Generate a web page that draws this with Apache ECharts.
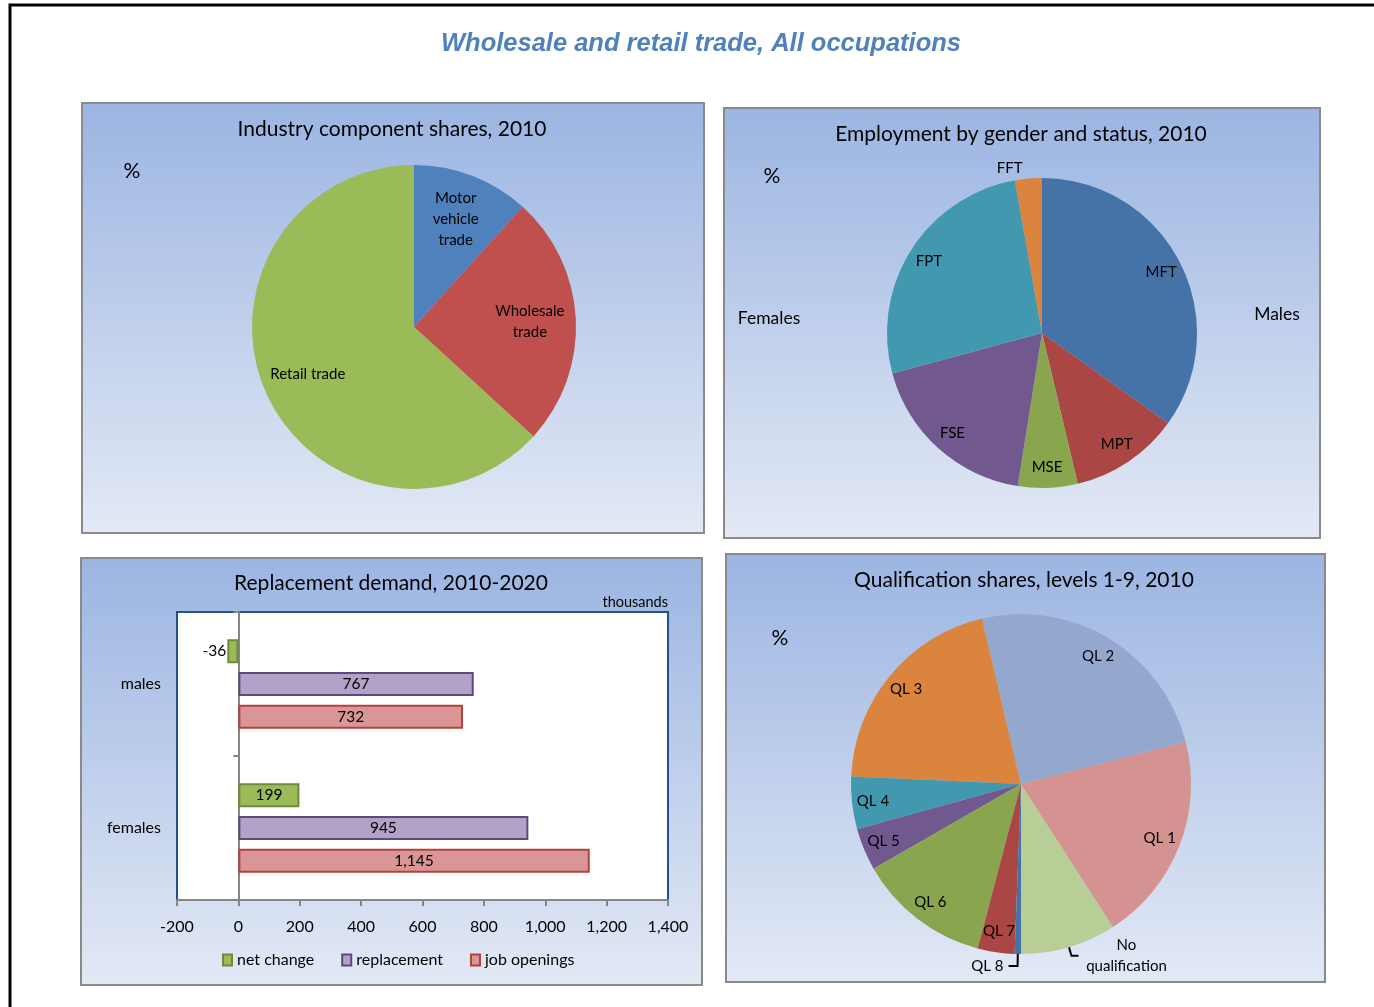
<!DOCTYPE html>
<html>
<head>
<meta charset="utf-8">
<title>Wholesale and retail trade, All occupations</title>
<script src="https://cdn.jsdelivr.net/npm/echarts@6/dist/echarts.min.js"></script>
<style>
  html, body { margin: 0; padding: 0; background: #fff; }
  #chart { width: 1374px; height: 1007px; }
</style>
</head>
<body>
<div id="chart"></div>
<script>
// industry component shares, 2010 (%)
const industryNames = ['Motor vehicle trade', 'Wholesale trade', 'Retail trade'];
const industryShares = [11.7, 25.1, 63.2];

// employment by gender and status, 2010 (%)
const statusNames = ['MFT', 'MPT', 'MSE', 'FSE', 'FPT', 'FFT'];
const statusShares = [34.9, 11.4, 6.2, 18.3, 26.4, 2.8];

// qualification shares, 2010 (%)
const qualNames = ['No qualification', 'QL 1', 'QL 2', 'QL 3', 'QL 4', 'QL 5', 'QL 6', 'QL 7', 'QL 8'];
const qualShares = [9.1, 19.9, 24.7, 20.6, 5.0, 4.0, 12.6, 3.5, 0.6];

// replacement demand 2010-2020 (thousands)
const genders = ['males', 'females'];
const netChange = [-36, 199];
const replacement = [767, 945];
const jobOpenings = [732, 1145];

const FONT = 'Lato, "Open Sans", sans-serif';
const fmt = (v) => v.toLocaleString('en-US');

const industryColors = ['#4f81bd', '#c0504d', '#9bbb59'];
const statusColors = ['#4572a7', '#aa4643', '#89a54e', '#71588f', '#4198af', '#db843d'];
const qualColors = ['#b9cd96', '#d49290', '#94a8cf', '#db843d', '#4198af', '#71588f', '#89a54e', '#aa4643', '#4572a7'];

function panel(x, y, w, h) {
  return {
    type: 'rect', z: -10,
    shape: { x: x, y: y, width: w, height: h },
    style: {
      fill: new echarts.graphic.LinearGradient(0, 0, 0, 1, [
        { offset: 0, color: '#9bb5e2' },
        { offset: 1, color: '#e3e9f5' }
      ]),
      stroke: '#8a8a8a', lineWidth: 2
    }
  };
}

function txt(x, y, text, size, align) {
  return {
    type: 'text', z: 100, x: x, y: y,
    style: { text: text, fontFamily: FONT, fontSize: size, fill: '#000', align: align || 'center', verticalAlign: 'middle' }
  };
}

// pie: main slices, no labels
function pieMain(center, r, names, values, colors, extra) {
  return Object.assign({
    type: 'pie', center: center, radius: [0, r], silent: true, animation: false,
    startAngle: 90, clockwise: true,
    label: { show: false }, labelLine: { show: false },
    itemStyle: { borderWidth: 0 },
    data: names.map((n, i) => ({ name: n, value: values[i], itemStyle: { color: colors[i] } }))
  }, extra || {});
}

// transparent ring to place inside labels further out than the default half radius
function pieLabels(center, r0, r, names, values, labelText, hidden, extra) {
  return Object.assign({
    type: 'pie', center: center, radius: [r0, r], silent: true, animation: false,
    startAngle: 90, clockwise: true,
    itemStyle: { color: 'rgba(0,0,0,0)' },
    labelLine: { show: false },
    label: { show: true, position: 'inside', color: '#000', fontFamily: FONT, fontSize: 15, lineHeight: 21 },
    data: names.map((n, i) => ({
      name: n, value: values[i],
      label: { show: !(hidden || []).includes(n), formatter: labelText[i] }
    }))
  }, extra || {});
}

const industryLabels = ['Motor\nvehicle\ntrade', 'Wholesale\ntrade', 'Retail trade'];

const qualMain = pieMain([1021, 784], 170, qualNames, qualShares, qualColors, { startAngle: -90, clockwise: false });
qualMain.data[0].label = {
  show: true, position: 'outside', color: '#000', fontFamily: FONT, fontSize: 15,
  formatter: '{a|No}\n{a|qualification}', rich: { a: { width: 86, align: 'center', fontFamily: FONT, fontSize: 15, lineHeight: 21 } }
};
qualMain.data[0].labelLine = { show: true, length: 9, length2: 7, lineStyle: { color: '#000', width: 2 } };
qualMain.data[8].label = { show: true, position: 'outside', color: '#000', fontFamily: FONT, fontSize: 15 };
qualMain.data[8].labelLine = { show: true, length: 12, length2: 9, lineStyle: { color: '#000', width: 2 } };

const statusMain = pieMain([1042, 333], 155, statusNames, statusShares, statusColors);
statusMain.data[5].label = { show: true, position: 'outside', color: '#000', fontFamily: FONT, fontSize: 15 };
statusMain.data[5].labelLine = { show: false, length: 10, length2: 0 };

const barLabel = { show: true, position: 'inside', color: '#000', fontFamily: FONT, fontSize: 15.5, formatter: (p) => fmt(p.value) };

const option = {
  backgroundColor: '#ffffff',
  animation: false,
  textStyle: { fontFamily: FONT },
  graphic: [
    { type: 'rect', z: -20, shape: { x: 10, y: 5, width: 1380, height: 1020 }, style: { fill: '#fff', stroke: '#000', lineWidth: 3 } },
    panel(82, 103, 622, 430),
    panel(724, 108, 596, 430),
    panel(81, 558, 621, 427),
    panel(726, 554, 599, 428),
    {
      type: 'text', z: 100, x: 701, y: 44,
      style: { text: 'Wholesale and retail trade, All occupations', fontFamily: '"Liberation Sans", Arial, sans-serif', fontSize: 25.5, fontWeight: 'bold', fontStyle: 'italic', fill: '#4f81bd', align: 'center', verticalAlign: 'middle' }
    },
    txt(392, 129, 'Industry component shares, 2010', 21),
    txt(1021, 134, 'Employment by gender and status, 2010', 21),
    txt(391, 583, 'Replacement demand, 2010-2020', 21),
    txt(1024, 580, 'Qualification shares, levels 1-9, 2010', 21),
    txt(132, 171, '%', 21),
    txt(772, 176, '%', 21),
    txt(780, 638, '%', 21),
    txt(769, 318, 'Females', 17.5),
    txt(1277, 314, 'Males', 17.5),
    txt(668, 602, 'thousands', 14.5, 'right')
  ],
  grid: {
    left: 177, top: 612, right: 1374 - 668, bottom: 1007 - 900,
    show: true, backgroundColor: '#ffffff', borderColor: '#24508f', borderWidth: 2
  },
  legend: {
    left: 217, top: 947,
    itemWidth: 9, itemHeight: 11, itemGap: 27,
    icon: 'rect',
    textStyle: { fontFamily: FONT, fontSize: 16, color: '#000' },
    data: ['net change', 'replacement', 'job openings']
  },
  xAxis: {
    type: 'value', min: -200, max: 1400, interval: 200,
    axisLine: { show: true, onZero: false, lineStyle: { color: '#868686', width: 2 } },
    axisTick: { show: true, length: 6, lineStyle: { color: '#868686', width: 2 } },
    axisLabel: { color: '#000', fontFamily: FONT, fontSize: 16, margin: 19, formatter: (v) => fmt(v) },
    splitLine: { show: false }
  },
  yAxis: [
    {
      type: 'category', data: genders, inverse: true, position: 'left',
      axisLine: { show: false, onZero: false }, axisTick: { show: false },
      axisLabel: { color: '#000', fontFamily: FONT, fontSize: 16, margin: 16 }
    },
    {
      type: 'category', data: genders, inverse: true, position: 'left',
      axisLine: { show: true, onZero: true, lineStyle: { color: '#868686', width: 2 } },
      axisTick: { show: true, length: 5, lineStyle: { color: '#868686', width: 2 } },
      axisLabel: { show: false }
    }
  ],
  series: [
    pieMain([414, 327], 162, industryNames, industryShares, industryColors),
    pieLabels([414, 327], 64, 162, industryNames, industryShares, industryLabels),
    statusMain,
    pieLabels([1042, 333], 107, 155, statusNames, statusShares, statusNames, ['FFT']),
    qualMain,
    pieLabels([1021, 784], 122, 170, qualNames, qualShares, qualNames, ['No qualification', 'QL 8'], { startAngle: -90, clockwise: false }),
    {
      name: 'net change', type: 'bar', yAxisIndex: 0, barWidth: 24, barGap: '36%',
      itemStyle: { color: '#9bbb59', borderColor: '#71893f', borderWidth: 2 },
      label: barLabel,
      data: netChange.map((v) => v < 0 ? { value: v, label: { position: 'left', distance: 1 } } : v)
    },
    {
      name: 'replacement', type: 'bar', yAxisIndex: 0, barWidth: 24, barGap: '36%',
      itemStyle: { color: '#b2a2c7', borderColor: '#5f497a', borderWidth: 2 },
      label: barLabel,
      data: replacement
    },
    {
      name: 'job openings', type: 'bar', yAxisIndex: 0, barWidth: 24, barGap: '36%',
      itemStyle: { color: '#d99694', borderColor: '#b3413e', borderWidth: 2 },
      label: barLabel,
      data: jobOpenings
    }
  ]
};

const myChart = echarts.init(document.getElementById('chart'), null, { renderer: 'canvas' });
myChart.setOption(option);
</script>
</body>
</html>
